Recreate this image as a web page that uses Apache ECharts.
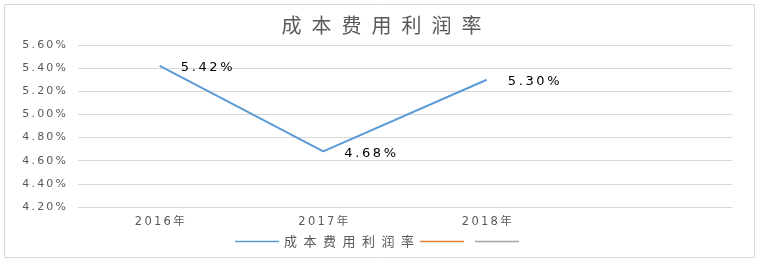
<!DOCTYPE html>
<html>
<head>
<meta charset="utf-8">
<script src="https://cdn.jsdelivr.net/npm/echarts@6/dist/echarts.min.js"></script>
<style>
html,body{margin:0;padding:0;background:#fff;}
#main{width:763px;height:266px;}
</style>
</head>
<body>
<div id="main"></div>
<script>
var titleText = '成本费用利润率';
var categories = ['2016年', '2017年', '2018年', ''];
var seriesName = '成本费用利润率';
var values = [5.42, 4.68, 5.30];
var emptySeries1 = [];
var emptySeries2 = [];
var yMin = 4.2, yMax = 5.6, yStep = 0.2;

function spaced(s, sep) { return String(s).split('').join(sep); }

var chart = echarts.init(document.getElementById('main'), null, {renderer: 'canvas'});
var font = 'DejaVu Sans, Noto Sans CJK SC, sans-serif';
var option = {
  backgroundColor: '#ffffff',
  animation: false,
  graphic: [{
    type: 'rect', shape: {x: 4.5, y: 4.5, width: 750, height: 253},
    style: {fill: 'none', stroke: '#D9D9D9', lineWidth: 1}, silent: true, z: -1
  }],
  title: {
    text: spaced(titleText, '\u2002'),
    left: 'center', top: 10,
    textStyle: {fontFamily: 'Noto Sans CJK SC, sans-serif', fontSize: 20, fontWeight: 'normal', color: '#595959'}
  },
  grid: {left: 78, right: 31, top: 45, bottom: 59, containLabel: false},
  legend: {
    bottom: 13, left: 230,
    itemWidth: 44, itemHeight: 10, itemGap: 6,
    icon: 'path://M0,4.2 L44,4.2 L44,5.8 L0,5.8 Z',
    data: [seriesName, '\u200b', '\u200b\u200b'],
    formatter: function (n) { return n === seriesName ? spaced(n, '\u2002') : '\u200b'; },
    textStyle: {fontFamily: 'Noto Sans CJK SC, sans-serif', fontSize: 13, color: '#595959'}
  },
  xAxis: {
    type: 'category', data: categories, boundaryGap: true,
    axisLine: {show: true, lineStyle: {color: '#D9D9D9'}},
    axisTick: {show: false},
    axisLabel: {
      fontFamily: font, fontSize: 11.5, color: '#595959', margin: 9,
      formatter: function (v) { return spaced(v, '\u2009'); }
    },
    splitLine: {show: false}
  },
  yAxis: {
    type: 'value', min: yMin, max: yMax, interval: yStep,
    axisLine: {show: false}, axisTick: {show: false},
    splitLine: {lineStyle: {color: '#D9D9D9', width: 1}},
    axisLabel: {
      fontFamily: font, fontSize: 11, color: '#595959', margin: 12,
      formatter: function (v) { return spaced(v.toFixed(2) + '%', '\u2009'); }
    }
  },
  series: [{
    name: seriesName, type: 'line', data: values,
    showSymbol: true, symbol: 'circle', symbolSize: 0.1,
    lineStyle: {color: '#5B9BD5', width: 2},
    itemStyle: {color: '#5B9BD5'},
    label: {
      show: true, position: 'right', distance: 21, offset: [0, 2],
      fontFamily: font, fontSize: 13, color: '#000000',
      formatter: function (p) { return spaced(p.value.toFixed(2) + '%', '\u2009'); }
    }
  }, {
    name: '\u200b', type: 'line', data: emptySeries1,
    lineStyle: {color: '#ED7D31', width: 2}, itemStyle: {color: '#ED7D31'}
  }, {
    name: '\u200b\u200b', type: 'line', data: emptySeries2,
    lineStyle: {color: '#A5A5A5', width: 2}, itemStyle: {color: '#A5A5A5'}
  }]
};
chart.setOption(option);
</script>
</body>
</html>
